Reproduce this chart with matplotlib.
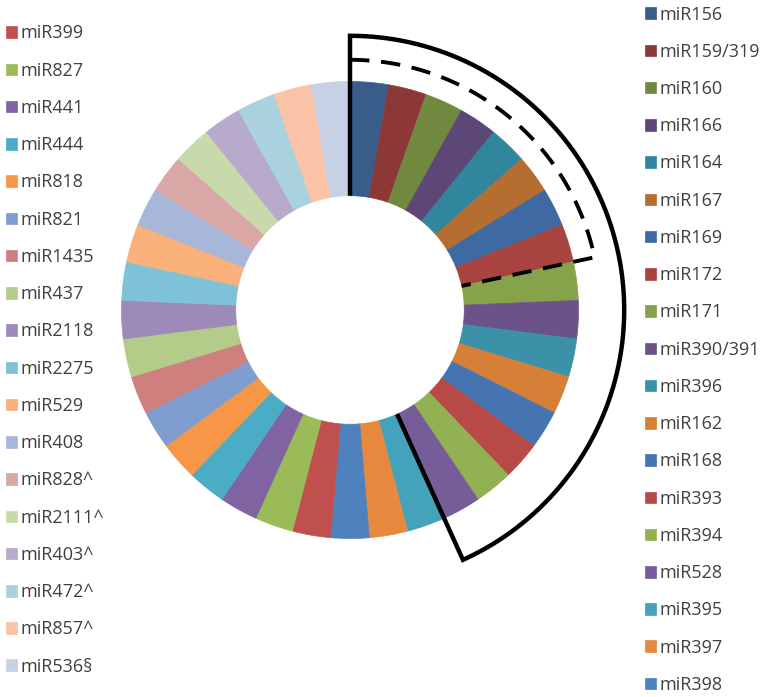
import numpy as np
import matplotlib
matplotlib.use("Agg")
import matplotlib.pyplot as plt

# miRNA families, clockwise from 12 o'clock
right_names = ["miR156", "miR159/319", "miR160", "miR166", "miR164", "miR167",
               "miR169", "miR172", "miR171", "miR390/391", "miR396", "miR162",
               "miR168", "miR393", "miR394", "miR528", "miR395", "miR397", "miR398"]
left_names = ["miR399", "miR827", "miR441", "miR444", "miR818", "miR821",
              "miR1435", "miR437", "miR2118", "miR2275", "miR529", "miR408",
              "miR828^", "miR2111^", "miR403^", "miR472^", "miR857^", "miR536§"]
names = right_names + left_names
values = [1] * len(names)  # every family gets one equal slice

colors = ["#385d8a", "#8c3836", "#71893f", "#5c4776", "#31859c", "#b66d31",
          "#3e69a3", "#a9433f", "#86a34b", "#6b5389", "#3a91a8", "#d57f37",
          "#4574b1", "#b74a47", "#92b153", "#765c99", "#44a2ba", "#e6893f",
          "#4f81bd", "#c0504d", "#9bbb59", "#8064a2", "#4bacc6", "#f79646",
          "#7f9dcf", "#cf7f7d", "#b3cc8a", "#9e8ab8", "#7dc2d6", "#f9b07a",
          "#a6b7da", "#d9a7a6", "#c8d9ac", "#b7aacb", "#a9d1de", "#fac2a6",
          "#c6d1e6"]

# brackets: number of slices (from the top) grouped by the outlines
solid_group = 16   # miR156 ... miR528
dashed_group = 8   # miR156 ... miR172

W, H = 767, 697
fig = plt.figure(figsize=(W / 100, H / 100), dpi=100)
ax = fig.add_axes([0, 0, 1, 1])

wedges, _ = ax.pie(values, colors=colors, startangle=90, counterclock=False,
                   wedgeprops=dict(width=0.5, linewidth=0.5))
for w in wedges:
    w.set_edgecolor(w.get_facecolor())

r_in = 0.5
# solid outline
t_end = wedges[solid_group - 1].theta1
t = np.radians(np.linspace(90, t_end, 200))
r_sol = 1.2
xs = np.concatenate([[0], r_sol * np.cos(t), [r_in * np.cos(t[-1])]])
ys = np.concatenate([[r_in], r_sol * np.sin(t), [r_in * np.sin(t[-1])]])
ax.plot(xs, ys, color="black", lw=3.2, solid_joinstyle="miter", solid_capstyle="butt")

# dashed outline
t_end = wedges[dashed_group - 1].theta1
t = np.radians(np.linspace(90, t_end, 200))
r_dash = 1.095
xs = np.concatenate([r_dash * np.cos(t), [r_in * np.cos(t[-1])]])
ys = np.concatenate([r_dash * np.sin(t), [r_in * np.sin(t[-1])]])
ax.plot(xs, ys, color="black", lw=2.8, linestyle=(0, (5, 3)), dash_capstyle="butt")

# place the ring: centre at (350, 310) px, radius 228.5 px
cx, cy, rp = 350, 310, 228.5
ax.set_aspect("auto")
ax.set_xlim(-cx / rp, (W - cx) / rp)
ax.set_ylim(-(H - cy) / rp, cy / rp)
ax.axis("off")

leg_kw = dict(frameon=False, handlelength=0.62, handleheight=0.62,
              handletextpad=0.2, labelspacing=1.066, borderpad=0, borderaxespad=0,
              loc="upper left", labelcolor="#404040",
              prop={"family": "Open Sans", "size": 13})
fig.legend(wedges[:len(right_names)], right_names,
           bbox_to_anchor=(645 / W, 1 - 5.5 / H), **leg_kw)
fig.legend(wedges[len(right_names):], left_names,
           bbox_to_anchor=(6 / W, 1 - 24.5 / H), **leg_kw)

fig.savefig("out.png", dpi=100)
